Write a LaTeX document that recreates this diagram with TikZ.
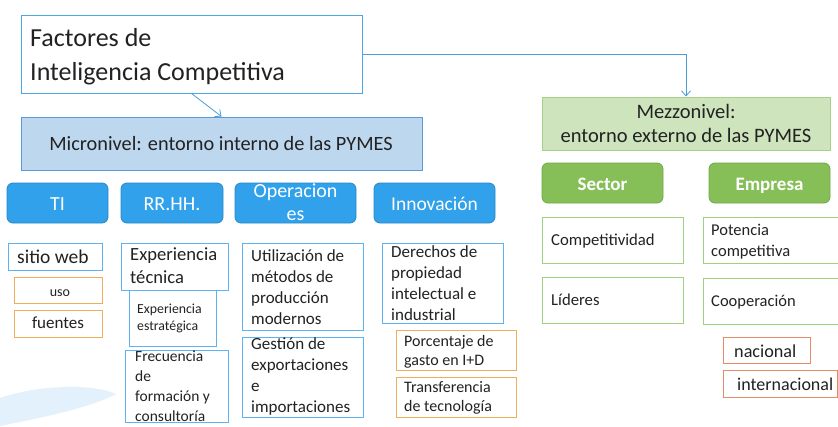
\documentclass[tikz,border=0pt]{standalone}
\usepackage{fontspec}
\setmainfont{Carlito}
\usetikzlibrary{arrows.meta}
\definecolor{txt}{HTML}{222222}
\definecolor{lbborder}{HTML}{4EA6E3}
\definecolor{microfill}{HTML}{BDD7EE}
\definecolor{microborder}{HTML}{5B9BD5}
\definecolor{mezzofill}{HTML}{CDE4BC}
\definecolor{mezzoborder}{HTML}{A7D08A}
\definecolor{catblue}{HTML}{30A1EA}
\definecolor{catblueb}{HTML}{2A88C8}
\definecolor{catgreen}{HTML}{86BF57}
\definecolor{catgreenb}{HTML}{70A944}
\definecolor{subblue}{HTML}{5DB2F2}
\definecolor{suborange}{HTML}{EFAE5E}
\definecolor{subred}{HTML}{E28B66}
\definecolor{subgreen}{HTML}{9FD17E}
\definecolor{arrowc}{HTML}{4A9FD8}
\definecolor{swoosh}{HTML}{D6ECFA}
\tikzset{
  frame/.style={draw, line width=1pt, fill=white, inner sep=0pt},
  titlebox/.style={frame, draw=lbborder},
  microbox/.style={draw=microborder, line width=1pt, fill=microfill, inner sep=0pt},
  mezzobox/.style={draw=mezzoborder, line width=1pt, fill=mezzofill, inner sep=0pt},
  catb/.style={draw=catblueb, line width=0.8pt, fill=catblue, rounded corners=6pt, inner sep=0pt,
     minimum width=101pt, minimum height=40pt},
  catg/.style={draw=catgreenb, line width=0.8pt, fill=catgreen, rounded corners=6pt, inner sep=0pt,
     minimum width=121pt, minimum height=40pt},
  bbox/.style={frame, draw=subblue},
  obox/.style={frame, draw=suborange},
  rbox/.style={frame, draw=subred},
  gbox/.style={frame, draw=subgreen},
  tx/.style={inner sep=0pt, text=txt, align=left, anchor=base west},
  txc/.style={inner sep=0pt, align=center, anchor=base},
  arr/.style={draw=arrowc, line width=0.8pt, -{Straight Barb[length=5pt,width=9pt]}},
}
\newcommand\fsz[2]{\fontsize{#1pt}{#2pt}\selectfont}
\begin{document}
\begin{tikzpicture}[x=1pt,y=-1pt]
\useasboundingbox (0,0) rectangle (838,426);
\clip (0,0) rectangle (838,426);
\fill[white] (0,0) rectangle (838,426);
% faint decoration bottom left
\fill[swoosh, opacity=0.7] (0,398) .. controls (40,384) and (95,384) .. (116,394)
   .. controls (90,408) and (40,418) .. (0,426) -- cycle;

% title (multi-line nodes: position = baseline of last line)
\node[titlebox, minimum width=341pt, minimum height=78pt] (title) at (191.5,54) {};
\node[tx, font=\fsz{26}{34}] (titletxt) at (30,80) {Factores de\\Inteligencia Competitiva};

% micro / mezzo
\node[microbox, minimum width=401pt, minimum height=53pt] (micro) at (221.5,143.5) {};
\node[txc, text=txt, font=\fsz{20.3}{24}] (microtxt) at (221,150) {Micronivel: entorno interno de las PYMES};
\node[mezzobox, minimum width=288pt, minimum height=53pt] (mezzo) at (686,123.5) {};
\node[txc, text=txt, font=\fsz{20.5}{24}] (mezzotxt) at (686,142) {Mezzonivel:\\entorno externo de las PYMES};

\draw[arr] (title.south) -- (micro.north);
\draw[arr] (title.east) -| (mezzo.north);

% categories
\node[catb] (ti) at (57.5,203) {};
\node[txc, text=white, font=\fsz{20}{23}] (titx) at (57.5,210) {TI};
\node[catb, minimum width=102pt] (rrhh) at (172,203) {};
\node[txc, text=white, font=\fsz{20}{23}] (rrhhtx) at (172,210) {RR.HH.};
\node[catb, minimum width=121pt] (oper) at (295.5,203) {};
\node[txc, text=white, font=\fsz{20}{23}] (opertx) at (295.5,220) {Operacion\\es};
\node[catb, minimum width=121pt] (innov) at (434.5,203) {};
\node[txc, text=white, font=\fsz{19.5}{23}] (innovtx) at (434.5,210) {Innovación};
\node[catg] (sector) at (602.5,183) {};
\node[txc, text=white, font=\bfseries\fsz{19}{23}] (sectortx) at (602.5,190) {Sector};
\node[catg] (empresa) at (769.5,183) {};
\node[txc, text=white, font=\bfseries\fsz{19}{23}] (empresatx) at (769.5,190) {Empresa};

% TI
\node[bbox, minimum width=94pt, minimum height=27pt] (sitio) at (55,256.5) {};
\node[tx, font=\fsz{19.5}{23}] (sitiotx) at (17,263) {sitio web};
\node[obox, minimum width=88pt, minimum height=26pt] (uso) at (58,290) {};
\node[txc, text=txt, font=\fsz{14}{17}] (usotx) at (60,296) {uso};
\node[obox, minimum width=88pt, minimum height=27pt] (fuentes) at (58,323.5) {};
\node[txc, text=txt, font=\fsz{17}{20}] (fuentestx) at (58,328) {fuentes};

% RR.HH.
\node[bbox, minimum width=107pt, minimum height=47pt] (exptec) at (174.5,266.5) {};
\node[tx, font=\fsz{18.6}{23}] (exptectx) at (130,283) {Experiencia\\técnica};
\node[bbox, minimum width=87pt, minimum height=56pt] (expest) at (172.5,318) {};
\node[tx, font=\fsz{13.8}{17}] (expesttx) at (137,330) {Experiencia\\estratégica};
\node[bbox, minimum width=103pt, minimum height=72pt] (frec) at (176.5,386) {};
\node[tx, font=\fsz{15.5}{20}] (frectx) at (135,421) {Frecuencia\\de\\formación y\\consultoría};

% Operaciones
\node[bbox, minimum width=121pt, minimum height=87pt] (util) at (302.5,286.5) {};
\node[tx, font=\fsz{17}{20.7}] (utiltx) at (251,324) {Utilización de\\métodos de\\producción\\modernos};
\node[bbox, minimum width=121pt, minimum height=80pt] (gest) at (302.5,377) {};
\node[tx, font=\fsz{17}{20.7}] (gesttx) at (251,412) {Gestión de\\exportaciones\\e\\importaciones};

% Innovacion
\node[bbox, minimum width=121pt, minimum height=80pt] (der) at (442.5,283) {};
\node[tx, font=\fsz{17}{21}] (dertx) at (391,320) {Derechos de\\propiedad\\intelectual e\\industrial};
\node[obox, minimum width=120pt, minimum height=40pt] (porc) at (456,350) {};
\node[tx, font=\fsz{16}{19}] (porctx) at (404,365) {Porcentaje de\\gasto en I+D};
\node[obox, minimum width=120pt, minimum height=40pt] (transf) at (456,397) {};
\node[tx, font=\fsz{16}{19}] (transftx) at (404,411) {Transferencia\\de tecnología};

% Sector
\node[gbox, minimum width=141pt, minimum height=46pt] (compet) at (612.5,240) {};
\node[tx, font=\fsz{16.7}{20}] (compettx) at (551,245) {Competitividad};
\node[gbox, minimum width=141pt, minimum height=46pt] (lideres) at (612.5,300) {};
\node[tx, font=\fsz{16.7}{20}] (liderestx) at (551,305) {Líderes};

% Empresa
\node[gbox, minimum width=147pt, minimum height=46pt] (potencia) at (776.5,240) {};
\node[tx, font=\fsz{16.5}{21}] (potenciatx) at (711,256) {Potencia\\competitiva};
\node[gbox, minimum width=147pt, minimum height=46pt] (coop) at (776.5,301) {};
\node[tx, font=\fsz{16.5}{20}] (cooptx) at (711,306) {Cooperación};
\node[rbox, minimum width=87pt, minimum height=26pt] (nacional) at (766.5,350) {};
\node[tx, font=\fsz{18.2}{21}] (nacionaltx) at (734,357) {nacional};
\node[rbox, minimum width=114pt, minimum height=27pt] (internac) at (780,383.5) {};
\node[tx, font=\fsz{18}{21}] (internactx) at (737,390) {internacional};
\end{tikzpicture}
\end{document}
